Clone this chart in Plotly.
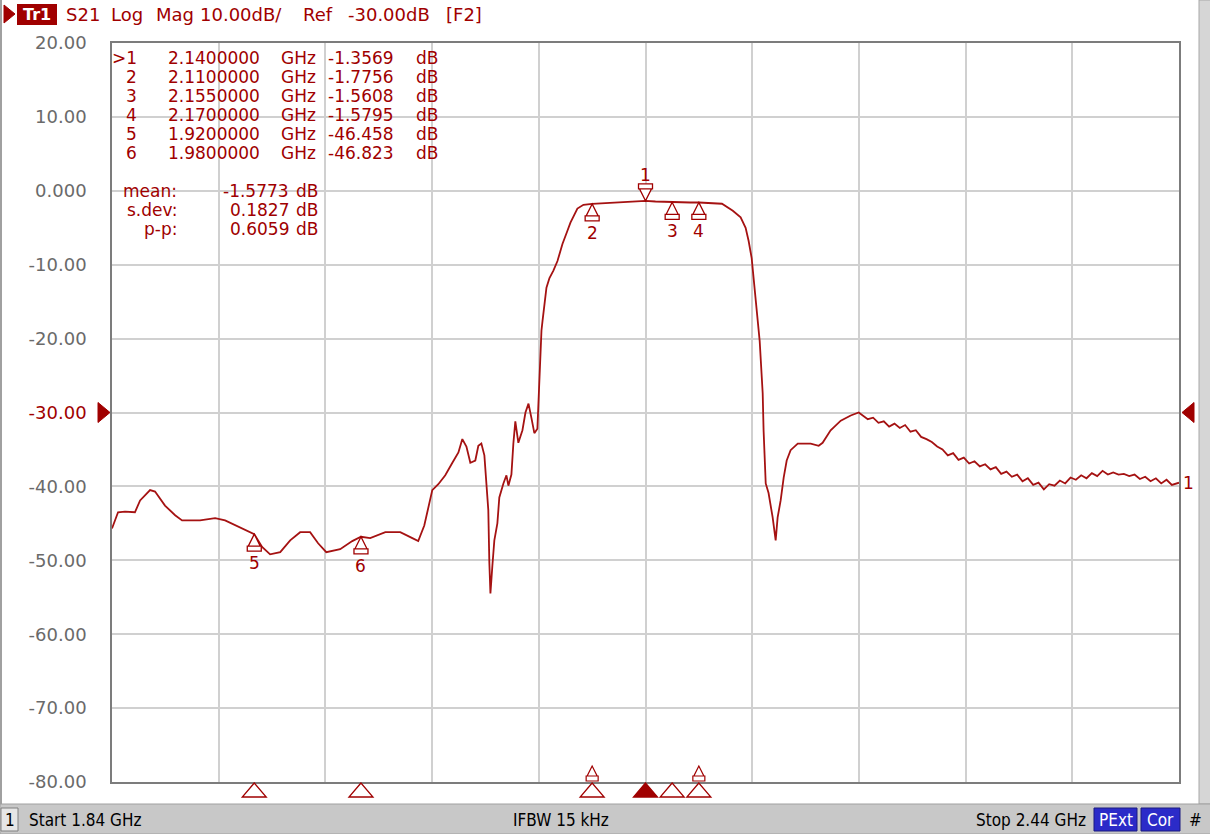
import plotly.graph_objects as go

# ---------------- data ----------------
start_ghz = 1.84
stop_ghz = 2.44
ref_db = -30.0
scale_db = 10.0

freq_ghz = [
    1.8400, 1.8434, 1.8473, 1.8529, 1.8558, 1.8614, 1.8642, 1.8698, 1.8755, 1.8794,
    1.8895, 1.8980, 1.9036, 1.9120, 1.9200, 1.9244, 1.9289, 1.9346, 1.9402, 1.9458,
    1.9514, 1.9559, 1.9605, 1.9683, 1.9751, 1.9800, 1.9852, 1.9937, 2.0021, 2.0089,
    2.0122, 2.0156, 2.0179, 2.0201, 2.0235, 2.0274, 2.0314, 2.0348, 2.0370, 2.0393,
    2.0415, 2.0443, 2.0460, 2.0477, 2.0494, 2.0505, 2.0516, 2.0522, 2.0528, 2.0539,
    2.0550, 2.0567, 2.0578, 2.0601, 2.0618, 2.0629, 2.0646, 2.0657, 2.0668, 2.0685,
    2.0708, 2.0725, 2.0742, 2.0759, 2.0775, 2.0792, 2.0798, 2.0804, 2.0815, 2.0821,
    2.0832, 2.0843, 2.0860, 2.0882, 2.0905, 2.0933, 2.0961, 2.0978, 2.1017, 2.1051,
    2.1100, 2.1184, 2.1269, 2.1353, 2.1400, 2.1456, 2.1550, 2.1651, 2.1700, 2.1773,
    2.1830, 2.1891, 2.1935, 2.1963, 2.1980, 2.1997, 2.2008, 2.2025, 2.2042, 2.2059,
    2.2064, 2.2076, 2.2092, 2.2115, 2.2132, 2.2143, 2.2160, 2.2177, 2.2194, 2.2216,
    2.2256, 2.2329, 2.2374, 2.2396, 2.2441, 2.2498, 2.2554, 2.2599,
    2.262, 2.265, 2.268, 2.271, 2.274, 2.277, 2.280, 2.283, 2.286, 2.289,
    2.292, 2.295, 2.298, 2.301, 2.304, 2.307, 2.310, 2.313, 2.316, 2.319,
    2.322, 2.325, 2.328, 2.331, 2.334, 2.337, 2.340, 2.343, 2.346, 2.349,
    2.352, 2.355, 2.358, 2.361, 2.364, 2.367, 2.370, 2.373, 2.376, 2.379,
    2.382, 2.385, 2.388, 2.391, 2.394, 2.397, 2.400, 2.403, 2.406, 2.409,
    2.412, 2.415, 2.418, 2.421, 2.424, 2.427, 2.430, 2.433, 2.436, 2.440,
]

s21_db = [
    -45.7, -43.5, -43.4, -43.5, -41.9, -40.5, -40.7, -42.6, -43.9, -44.6,
    -44.6, -44.3, -44.6, -45.5, -46.46, -48.2, -49.2, -48.9, -47.3, -46.2,
    -46.2, -47.7, -48.9, -48.5, -47.4, -46.82, -47.0, -46.2, -46.2, -47.0,
    -47.4, -45.3, -42.6, -40.5, -39.7, -38.5, -36.8, -35.4, -33.6, -34.6,
    -36.8, -36.5, -34.5, -34.2, -35.8, -40.3, -43.2, -50.4, -54.5, -50.7,
    -47.3, -45.0, -41.5, -39.6, -38.5, -39.9, -38.4, -34.2, -31.2, -34.1,
    -32.4, -30.0, -28.8, -30.8, -32.8, -32.2, -28.4, -24.7, -18.9, -17.6,
    -14.9, -13.1, -11.8, -10.8, -9.5, -7.2, -5.4, -4.3, -2.4, -1.9,
    -1.78, -1.65, -1.55, -1.42, -1.36, -1.45, -1.56, -1.58, -1.58, -1.62,
    -1.75, -2.7, -3.6, -5.0, -6.8, -9.1, -11.8, -16.2, -20.3, -27.4,
    -32.4, -39.6, -40.9, -44.2, -47.3, -44.2, -41.9, -38.8, -36.5, -35.1,
    -34.2, -34.2, -34.5, -34.1, -32.4, -31.1, -30.4, -30.0,
    -30.4, -30.9, -30.7, -31.4, -31.2, -31.9, -31.5, -32.1, -31.7, -32.6,
    -32.4, -33.3, -33.6, -34.0, -34.6, -35.0, -35.8, -35.5, -36.4, -36.1,
    -36.9, -36.6, -37.3, -37.0, -37.7, -37.4, -38.3, -38.0, -38.7, -38.4,
    -39.3, -38.9, -39.8, -39.5, -40.4, -39.7, -39.9, -39.2, -39.6, -38.8,
    -39.1, -38.5, -38.9, -38.2, -38.6, -37.9, -38.4, -38.1, -38.4, -38.3,
    -38.6, -38.4, -39.0, -38.7, -39.3, -38.9, -39.6, -39.1, -39.8, -39.5,
]
assert len(freq_ghz) == len(s21_db)

marker_ids = ["1", "2", "3", "4", "5", "6"]
marker_freq = [2.14, 2.11, 2.155, 2.17, 1.92, 1.98]
marker_db = [-1.3569, -1.7756, -1.5608, -1.5795, -46.458, -46.823]

stat_names = ["mean:", "s.dev:", "p-p:"]
stat_values = ["-1.5773", "0.1827", "0.6059"]

y_tick_vals = [20, 10, 0, -10, -20, -30, -40, -50, -60, -70, -80]
y_tick_text = ["20.00", "10.00", "0.000", "-10.00", "-20.00", "-30.00",
               "-40.00", "-50.00", "-60.00", "-70.00", "-80.00"]

# ---------------- style ----------------
W, H = 1210, 834
ML, MR, MT, MB = 112, 31, 43, 52
PW, PH = W - ML - MR, H - MT - MB
TRACE = "#a51212"
RED = "#a00000"
GRID = "#d0d0d0"
FONT = "DejaVu Sans"
NARROW = "Liberation Sans Narrow, Arial Narrow, DejaVu Sans Condensed, sans-serif"


def px(x):
    return (x - ML) / PW


def py(y):
    return (H - MB - y) / PH


def note(x, y, text, anchor="left", size=17, color=RED, family=FONT):
    return dict(x=px(x), y=py(y), xref="paper", yref="paper", text=text, showarrow=False,
                xanchor=anchor, yanchor="middle",
                font=dict(family=family, size=size, color=color))


fig = go.Figure()
fig.add_trace(go.Scatter(x=freq_ghz, y=s21_db, mode="lines",
                         line=dict(color=TRACE, width=1.8), hoverinfo="skip",
                         showlegend=False))

shapes = []
annotations = []

# --- marker glyphs on the trace ---
up_glyph = "M0,0 L-6,-12 L6,-12 Z M-7,-12 L7,-12 L7,-17 L-7,-17 Z"
down_glyph = "M0,0 L-6,12 L6,12 Z M-7,12 L7,12 L7,17 L-7,17 Z"
for mid, mf, md in zip(marker_ids, marker_freq, marker_db):
    active = mid == "1"
    shapes.append(dict(type="path", xref="x", yref="y", xsizemode="pixel", ysizemode="pixel",
                       xanchor=mf, yanchor=md, path=down_glyph if active else up_glyph,
                       line=dict(color=RED, width=1.3), fillcolor="white", layer="above"))
    annotations.append(dict(x=mf, y=md, xref="x", yref="y", text=mid, showarrow=False,
                            xanchor="center", yanchor="middle",
                            yshift=26 if active else -29,
                            font=dict(family=FONT, size=17, color=RED)))
    # markers along the bottom edge
    shapes.append(dict(type="path", xref="x", yref="paper", xsizemode="pixel", ysizemode="pixel",
                       xanchor=mf, yanchor=0, path="M0,-1 L-12,-15 L12,-15 Z",
                       line=dict(color=RED, width=1.3),
                       fillcolor=RED if active else "white", layer="above"))

# small stacked glyphs at bottom for markers 2 and 4
for mid, mf in zip(marker_ids, marker_freq):
    if mid in ("2", "4"):
        shapes.append(dict(type="path", xref="x", yref="paper", xsizemode="pixel",
                           ysizemode="pixel", xanchor=mf, yanchor=0,
                           path="M0,16 L-5,6 L5,6 Z M-6,6 L6,6 L6,1 L-6,1 Z",
                           line=dict(color=RED, width=1.2), fillcolor="white", layer="above"))

# reference level triangles
shapes.append(dict(type="path", xref="paper", yref="y", xsizemode="pixel", ysizemode="pixel",
                   xanchor=0, yanchor=ref_db, path="M-2,0 L-14,10 L-14,-10 Z",
                   fillcolor=RED, line=dict(color=RED, width=1)))
shapes.append(dict(type="path", xref="paper", yref="y", xsizemode="pixel", ysizemode="pixel",
                   xanchor=1, yanchor=ref_db, path="M3,0 L15,10 L15,-10 Z",
                   fillcolor=RED, line=dict(color=RED, width=1)))

# trace end label
annotations.append(dict(x=freq_ghz[-1], y=s21_db[-1], xref="x", yref="y", text="1",
                        showarrow=False, xanchor="left", yanchor="middle", xshift=2,
                        font=dict(family=FONT, size=17, color=RED)))

# --- marker table ---
row_y = [58, 77, 96, 115, 134, 153]
for i, (mid, mf, md) in enumerate(zip(marker_ids, marker_freq, marker_db)):
    yy = row_y[i]
    annotations += [
        note(139, yy, (">" if i == 0 else "") + mid, "right"),
        note(166, yy, f"{mf:.7f}"),
        note(279, yy, "GHz"),
        note(326, yy, f"{md:.5g}"),
        note(414, yy, "dB"),
    ]

stat_y = [191, 210, 229]
for name, val, yy in zip(stat_names, stat_values, stat_y):
    annotations += [note(179, yy, name, "right"), note(291, yy, val, "right"),
                    note(294, yy, "dB")]

# --- header line ---
shapes.append(dict(type="path", xref="paper", yref="paper",
                   path=f"M{px(4)},{py(5)} L{px(15)},{py(14)} L{px(4)},{py(23)} Z",
                   fillcolor=RED, line=dict(color=RED, width=1)))
shapes.append(dict(type="rect", xref="paper", yref="paper", x0=px(17), x1=px(57),
                   y0=py(4), y1=py(25), fillcolor=RED, line=dict(width=0)))
annotations.append(note(37, 14.5, "<b>Tr1</b>", "center", size=16, color="white"))
header_words = [("S21", 64), ("Log", 109), ("Mag", 154), ("10.00dB/", 198),
                ("Ref", 301), ("-30.00dB", 346), ("[F2]", 444)]
for w, xx in header_words:
    annotations.append(note(xx, 14.5, w, "left", size=18))

# --- window frame pieces ---
shapes.append(dict(type="line", xref="paper", yref="paper", x0=px(1), x1=px(1),
                   y0=py(0), y1=py(834), line=dict(color="#a0a0a0", width=2), layer="below"))
shapes.append(dict(type="rect", xref="paper", yref="paper", x0=px(1199), x1=px(1212),
                   y0=py(0), y1=py(804), fillcolor="#d6d6d6",
                   line=dict(color="#a8a8a8", width=1), layer="below"))

# --- status bar ---
shapes.append(dict(type="rect", xref="paper", yref="paper", x0=px(0), x1=px(1212),
                   y0=py(834), y1=py(804), fillcolor="#c8c8c8",
                   line=dict(color="#a0a0a0", width=1), layer="below"))
shapes.append(dict(type="rect", xref="paper", yref="paper", x0=px(1), x1=px(18),
                   y0=py(831), y1=py(808), fillcolor="#e6e6e6",
                   line=dict(color="#808080", width=1)))
for x0, x1 in ((1094, 1137), (1141, 1180)):
    shapes.append(dict(type="rect", xref="paper", yref="paper", x0=px(x0), x1=px(x1),
                       y0=py(831), y1=py(808), fillcolor="#2b2bc8",
                       line=dict(color="#1a1a80", width=1)))
status_items = [("1", 9.5, "center", "black"), ("Start 1.84 GHz", 27, "left", "black"),
                ("IFBW 15 kHz", 561, "center", "black"), ("Stop 2.44 GHz", 1088, "right", "black"),
                ("PExt", 1115.5, "center", "white"), ("Cor", 1160.5, "center", "white"),
                ("#", 1195, "center", "black")]
for t, xx, anc, col in status_items:
    annotations.append(note(xx, 819.5, t, anc, size=17, color=col, family=NARROW))

tick_text_colored = [f'<span style="color:{RED}">{t}</span>' if v == ref_db else t
                     for v, t in zip(y_tick_vals, y_tick_text)]

fig.update_layout(
    width=W, height=H,
    margin=dict(l=ML, r=MR, t=MT, b=MB, pad=0),
    paper_bgcolor="white", plot_bgcolor="white",
    showlegend=False,
    shapes=shapes, annotations=annotations,
    xaxis=dict(range=[start_ghz, stop_ghz], dtick=(stop_ghz - start_ghz) / 10, tick0=start_ghz,
               showticklabels=False, ticks="", showgrid=True, gridcolor=GRID, gridwidth=2,
               zeroline=False, showline=True, mirror=True, linecolor="#7c7c7c", linewidth=1.5),
    yaxis=dict(range=[ref_db - 5 * scale_db, ref_db + 5 * scale_db], tickvals=y_tick_vals,
               ticktext=tick_text_colored, ticks="", ticklabelstandoff=20,
               tickfont=dict(family=FONT, size=18, color="#6a6a6a"),
               showgrid=True, gridcolor=GRID, gridwidth=2, zeroline=False,
               showline=True, mirror=True, linecolor="#7c7c7c", linewidth=1.5),
)

fig.write_html("out.html", config={"displayModeBar": False},
               post_script="document.body.style.margin='0';document.body.style.overflow='hidden';")
